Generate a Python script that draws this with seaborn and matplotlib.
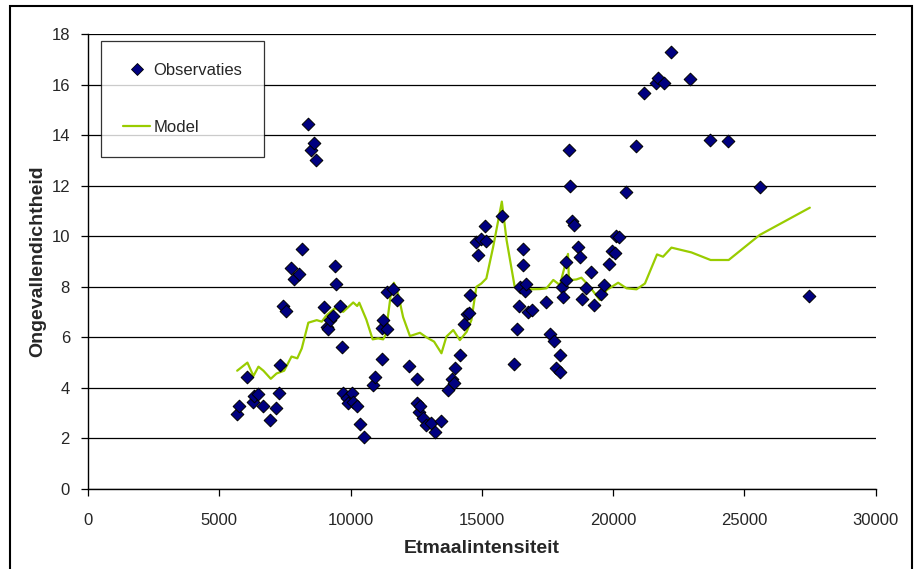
import matplotlib
matplotlib.use("Agg")
import matplotlib.pyplot as plt
import seaborn as sns
import pandas as pd
from matplotlib.lines import Line2D
from matplotlib.patches import Rectangle

# Observations (Etmaalintensiteit, Ongevallendichtheid)
obs_x = [5680, 5760, 6060, 6270, 6330, 6480, 6670, 6930, 7140, 7260, 7320, 7440, 7530,
         7730, 7840, 8020, 8150, 8390, 8490, 8617, 8670, 9000, 9110, 9150, 9210, 9340,
         9420, 9460, 9590, 9680, 9720, 9850, 9910, 10040, 10100, 10230, 10350, 10520,
         10840, 10930, 11190, 11200, 11240, 11370, 11390, 11620, 11750, 12230, 12540,
         12540, 12610, 12640, 12770, 12890, 13080, 13210, 13440, 13720, 13880, 13930,
         13980, 14160, 14310, 14420, 14500, 14540, 14760, 14850, 14950, 15100, 15170,
         15760, 16220, 16330, 16400, 16470, 16550, 16560, 16650, 16670, 16740, 16890,
         17460, 17590, 17740, 17840, 17970, 17990, 18070, 18100, 18200, 18220, 18320,
         18370, 18450, 18510, 18660, 18730, 18810, 18960, 19170, 19270, 19530, 19640,
         19850, 19970, 20070, 20120, 20220, 20500, 20870, 21180, 21650, 21690, 21930,
         22220, 22940, 23680, 24380, 25580, 27460]
obs_y = [2.97, 3.28, 4.42, 3.43, 3.68, 3.76, 3.28, 2.73, 3.19, 3.80, 4.90, 7.24, 7.05,
         8.76, 8.31, 8.50, 9.48, 14.44, 13.41, 13.67, 13.01, 7.19, 6.42, 6.32, 6.68, 6.84,
         8.82, 8.13, 7.24, 5.63, 3.79, 3.59, 3.39, 3.79, 3.45, 3.28, 2.56, 2.07,
         4.11, 4.44, 5.13, 6.38, 6.68, 6.32, 7.79, 7.90, 7.48, 4.88, 4.35,
         3.39, 3.06, 3.28, 2.80, 2.53, 2.60, 2.27, 2.69, 3.92, 4.34, 4.18,
         4.79, 5.29, 6.53, 6.91, 6.95, 7.66, 9.76, 9.24, 9.91, 10.42, 9.82,
         10.80, 4.93, 6.33, 7.24, 8.00, 9.49, 8.87, 7.83, 8.11, 7.01, 7.08,
         7.38, 6.13, 5.87, 4.77, 4.64, 5.30, 8.00, 7.58, 8.27, 8.98, 13.41,
         11.99, 10.61, 10.44, 9.58, 9.16, 7.50, 7.97, 8.60, 7.27, 7.71, 8.08,
         8.90, 9.43, 9.32, 10.01, 9.95, 11.74, 13.58, 15.65, 16.05, 16.25, 16.05,
         17.29, 16.22, 13.81, 13.77, 11.93, 7.65]

# Model
mod_x = [5680, 6070, 6300, 6490, 6680, 6960, 7180, 7470, 7750, 7970, 8140, 8390, 8710,
         8900, 9090, 9400, 9720, 10100, 10250, 10330, 10600, 10840, 11050, 11240, 11330,
         11520, 11650, 11810, 12000, 12260, 12640, 12890, 13180, 13460, 13650, 13910,
         14160, 14420, 14600, 14790, 14980, 15170, 15430, 15760, 15940, 16250, 16450,
         16830, 17210, 17460, 17720, 17970, 18280, 18310, 18410, 18600, 18790, 19050,
         19300, 19490, 19750, 20190, 20510, 20890, 21210, 21670, 21900, 22220, 22980,
         23710, 24400, 25580, 27490]
mod_y = [4.68, 5.00, 4.47, 4.84, 4.68, 4.36, 4.57, 4.68, 5.24, 5.17, 5.56, 6.58, 6.68,
         6.62, 6.88, 7.15, 7.01, 7.38, 7.24, 7.37, 6.70, 5.92, 5.96, 5.92, 6.10,
         7.61, 8.16, 7.71, 6.80, 6.05, 6.18, 6.00, 5.83, 5.37, 6.03, 6.29,
         5.89, 6.22, 6.68, 8.00, 8.13, 8.33, 9.58, 11.37, 9.85, 8.00, 7.94,
         7.90, 7.91, 7.94, 8.27, 8.07, 9.30, 8.40, 8.27, 8.29, 8.36, 8.07,
         7.74, 7.48, 7.87, 8.16, 7.94, 7.90, 8.13, 9.28, 9.19, 9.55, 9.36,
         9.06, 9.06, 10.05, 11.13]

x_ticks = [0, 5000, 10000, 15000, 20000, 25000, 30000]
y_ticks = [0, 2, 4, 6, 8, 10, 12, 14, 16, 18]

sns.set_theme(style="white")
plt.rcParams['font.family'] = ['Liberation Sans', 'DejaVu Sans']

fig = plt.figure(figsize=(9.17, 5.69), dpi=100)
ax = fig.add_axes([0.096, 0.1406, 0.859, 0.7996])

obs = pd.DataFrame({"x": obs_x, "y": obs_y})
mod = pd.DataFrame({"x": mod_x, "y": mod_y})

ax.yaxis.grid(True, color="black", linewidth=0.9)
ax.set_axisbelow(True)

sns.lineplot(data=mod, x="x", y="y", ax=ax, color="#99CC00", linewidth=1.6,
             estimator=None, sort=False, zorder=2)
sns.scatterplot(data=obs, x="x", y="y", ax=ax, marker="D", s=42, color="#000080",
                edgecolor="black", linewidth=0.7, zorder=3)

ax.set_xlim(0, 30000)
ax.set_ylim(0, 18)
ax.set_xticks(x_ticks)
ax.set_yticks(y_ticks)
ax.set_xticklabels([str(v) for v in x_ticks], fontsize=12)
ax.set_yticklabels([str(v) for v in y_ticks], fontsize=12)
ax.tick_params(axis="both", direction="out", length=5, width=0.9, color="black",
               bottom=True, left=True)
ax.tick_params(axis="y", pad=8)
ax.tick_params(axis="x", pad=12)

for s in ["top", "right"]:
    ax.spines[s].set_visible(False)
for s in ["left", "bottom"]:
    ax.spines[s].set_color("black")
    ax.spines[s].set_linewidth(1.0)

ax.set_xlabel("Etmaalintensiteit", fontsize=14, fontweight="bold", labelpad=9)
ax.set_ylabel("Ongevallendichtheid", fontsize=14, fontweight="bold", labelpad=4)

handles = [
    Line2D([], [], linestyle="none", marker="D", markersize=6, markerfacecolor="#000080",
           markeredgecolor="black", markeredgewidth=0.6, label="Observaties"),
    Line2D([], [], color="#99CC00", linewidth=1.6, label="Model"),
]
leg = ax.legend(handles=handles, loc="upper left", bbox_to_anchor=(0.0165, 0.985),
                frameon=True, fancybox=False, fontsize=12, labelspacing=2.52,
                borderpad=1.33, handlelength=1.6, handletextpad=0.2, borderaxespad=0)
leg.get_frame().set_edgecolor("black")
leg.get_frame().set_linewidth(0.9)

fig.patches.append(Rectangle((10 / 917, -0.1), 902 / 917, 1.1 - 6 / 569,
                             transform=fig.transFigure, fill=False,
                             edgecolor="black", linewidth=1.5))

fig.savefig("out.png", dpi=100, facecolor="white")
